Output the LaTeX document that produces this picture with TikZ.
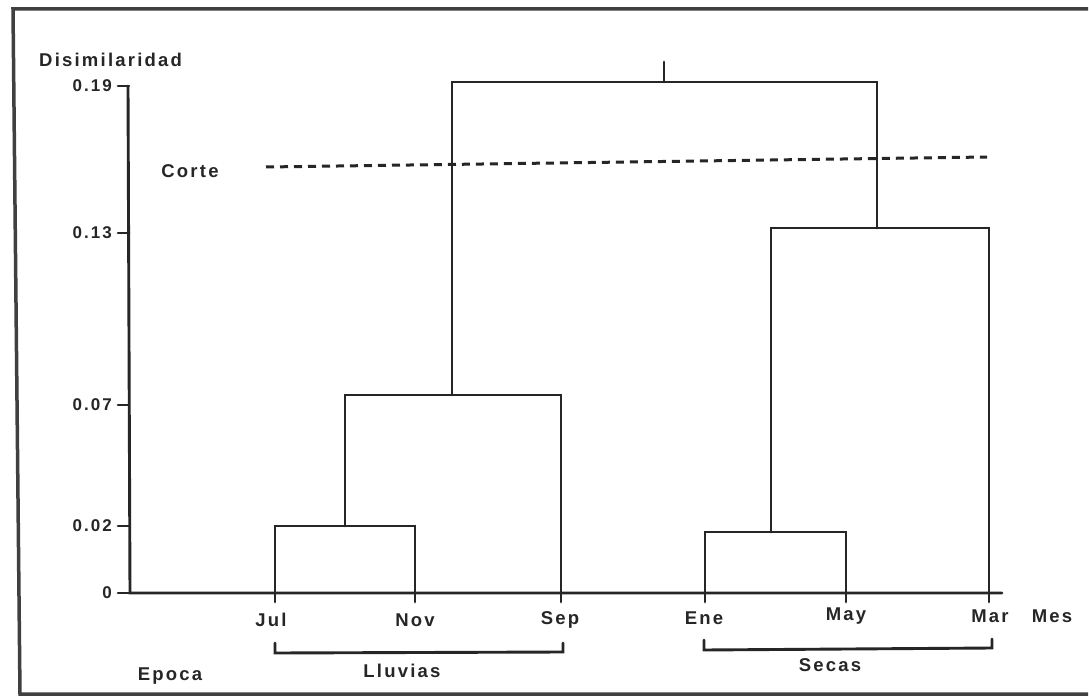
\documentclass[tikz,border=0pt]{standalone}
\usepackage{fontspec}
\setmainfont{Liberation Sans}[LetterSpace=12]
\begin{document}
\begin{tikzpicture}[x=1pt,y=-1pt,
  lbl/.style={font=\fontsize{18.5}{20}\selectfont\bfseries, inner sep=1pt, text=black!85},
  ticklbl/.style={font=\fontsize{17}{19}\selectfont\bfseries, inner sep=1pt, anchor=east, text=black!85},
  tree/.style={line width=2.9pt, line cap=round, black!85},
  frame/.style={line width=3.5pt, black!75},
  cut/.style={line width=3pt, black!85, dash pattern=on 8pt off 6pt}]
\useasboundingbox (0,0) rectangle (1089,700);
\fill[white] (0,0) rectangle (1089,700);
% frame
\draw[frame] (1088,9) -- (13,9) -- (20,694) -- (1088,694);
% axes
\draw[tree] (128,86) -- (130,593) -- (1002,593);
\foreach \y/\t in {86/0.19,233/0.13,405/0.07,526/0.02,593/0}{
  \draw[tree] (118,\y) -- (129,\y);
  \node[ticklbl] at (113,\y) {\t};
}
\node[lbl, anchor=west] (ylab) at (38,60) {Disimilaridad};
\node[lbl] (corte) at (190,171) {Corte};
% leaves
\coordinate (jul) at (275,602);
\coordinate (nov) at (415,602);
\coordinate (sep) at (561,602);
\coordinate (ene) at (705,602);
\coordinate (may) at (846,602);
\coordinate (mar) at (989,602);
% merges
\coordinate (jn) at (345,526);
\coordinate (em) at (771,532);
\coordinate (jns) at (452,395);
\coordinate (emm) at (877,228);
\coordinate (top) at (664,82);
% dendrogram
\draw[tree] (jul) |- (jn) -| (nov);
\draw[tree] (jn) |- (jns) -| (sep);
\draw[tree] (ene) |- (em) -| (may);
\draw[tree] (em) |- (emm) -| (mar);
\draw[tree] (jns) |- (top) -| (emm);
\draw[tree] (top) -- ++(0,-20);
% cut line
\coordinate (c1) at (266,167);
\coordinate (c2) at (987,157);
\draw[cut] (c1) -- (c2);
% leaf labels
\node[lbl] (ljul) at (271,620) {Jul};
\node[lbl] (lnov) at (415,620) {Nov};
\node[lbl] (lsep) at (560,620) {Sep};
\node[lbl] (lene) at (704,618) {Ene};
\node[lbl] (lmay) at (846,616) {May};
\node[lbl] (lmar) at (990,616) {Mar};
\node[lbl] (lmes) at (1052,616) {Mes};
% brackets
\draw[tree] (275,643) -- (275,653) -- (563,652) -- (563,643);
\node[lbl] (lluv) at (402,671) {Lluvias};
\draw[tree] (704,640) -- (704,650) -- (992,648) -- (992,639);
\node[lbl] (secas) at (830,665) {Secas};
\node[lbl] (epoca) at (170,676) {Epoca};
\end{tikzpicture}
\end{document}
